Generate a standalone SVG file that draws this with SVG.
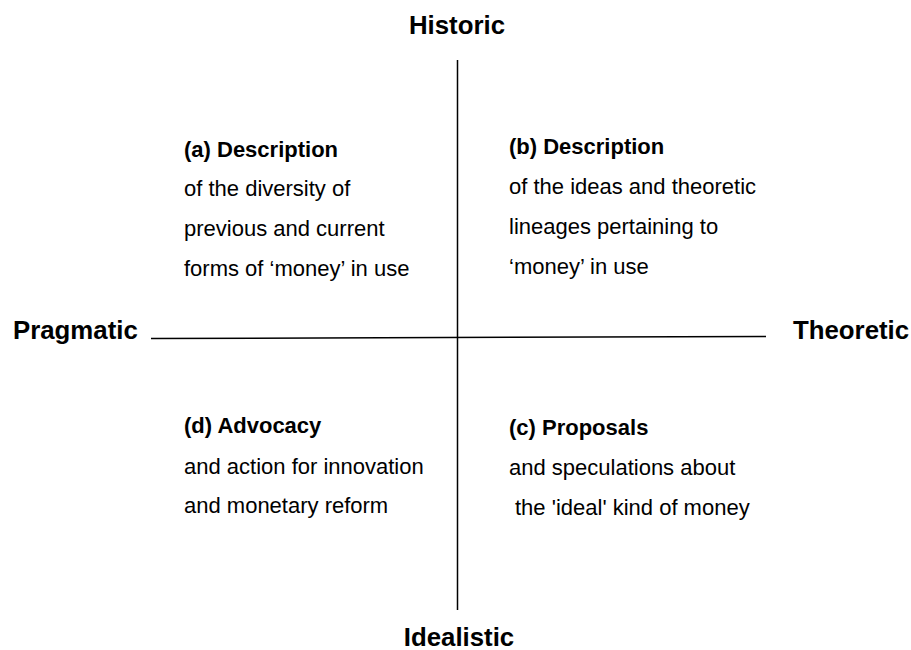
<svg xmlns="http://www.w3.org/2000/svg" width="911" height="650" viewBox="0 0 911 650">
<style>
.ax{font-family:"Liberation Sans",Arial,sans-serif;font-weight:bold;font-size:25.8px;fill:#000}
.h{font-family:"Liberation Sans",Arial,sans-serif;font-weight:bold;font-size:22px;fill:#000}
.t{font-family:"Liberation Sans",Arial,sans-serif;font-size:22px;fill:#000}
.ln{stroke:#000;stroke-width:1.5;fill:none}
</style>
<rect width="911" height="650" fill="#fff"/>
<g id="connectors">
<line class="ln" x1="457.5" y1="60" x2="457.5" y2="610"/>
<line class="ln" x1="151" y1="338.5" x2="766" y2="336.5"/>
</g>
<g id="axis-historic"><text class="ax" x="457" y="34" text-anchor="middle">Historic</text></g>
<g id="axis-idealistic"><text class="ax" x="459" y="646" text-anchor="middle">Idealistic</text></g>
<g id="axis-pragmatic"><text class="ax" x="13" y="339">Pragmatic</text></g>
<g id="axis-theoretic"><text class="ax" x="793" y="339">Theoretic</text></g>
<g id="quadrant-a">
<text class="h" x="184" y="157">(a) Description</text>
<text class="t" x="184" y="196">of the diversity of</text>
<text class="t" x="184" y="236">previous and current</text>
<text class="t" x="184" y="276">forms of ‘money’ in use</text>
</g>
<g id="quadrant-b">
<text class="h" x="509" y="154">(b) Description</text>
<text class="t" x="509" y="194">of the ideas and theoretic</text>
<text class="t" x="509" y="234">lineages pertaining to</text>
<text class="t" x="509" y="274">‘money’ in use</text>
</g>
<g id="quadrant-d">
<text class="h" x="184" y="433">(d) Advocacy</text>
<text class="t" x="184" y="474">and action for innovation</text>
<text class="t" x="184" y="513">and monetary reform</text>
</g>
<g id="quadrant-c">
<text class="h" x="509" y="435">(c) Proposals</text>
<text class="t" x="509" y="475">and speculations about</text>
<text class="t" x="515" y="515">the 'ideal' kind of money</text>
</g>
</svg>
